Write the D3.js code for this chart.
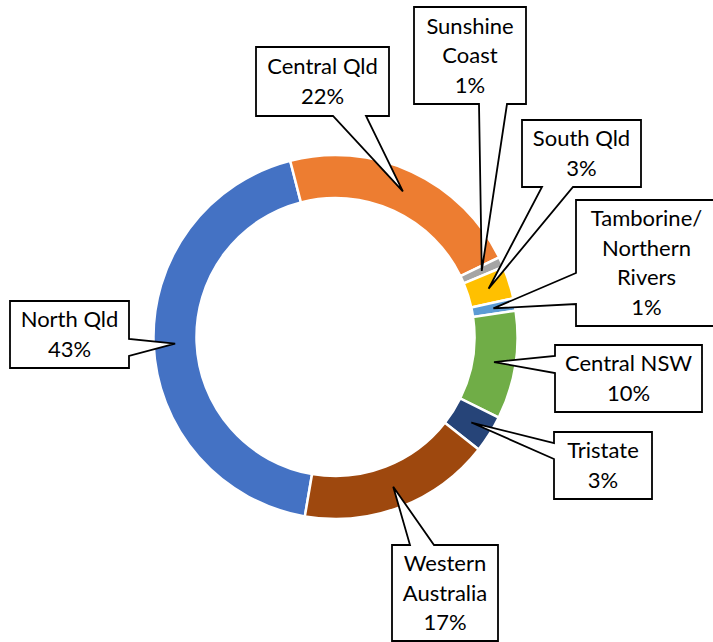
<!DOCTYPE html>
<html>
<head>
<meta charset="utf-8">
<script src="https://cdn.jsdelivr.net/npm/d3@7"></script>
<style>
  body { margin: 0; background: #fff; }
  svg { display: block; }
</style>
</head>
<body>
<svg id="chart" width="713" height="642"></svg>
<script>
// data (share of total, %)
const categories = ["North Qld", "Central Qld", "Sunshine Coast", "South Qld",
  "Tamborine/ Northern Rivers", "Central NSW", "Tristate", "Western Australia"];
const values = [43.3, 21.8, 0.9, 2.9, 1.1, 9.6, 3.3, 17.1];
const labelLines = [["North Qld"], ["Central Qld"], ["Sunshine", "Coast"], ["South Qld"],
  ["Tamborine/", "Northern", "Rivers"], ["Central NSW"], ["Tristate"], ["Western", "Australia"]];
const colors = ["#4472C4", "#ED7D31", "#A5A5A5", "#FFC000", "#5B9BD5", "#70AD47", "#264478", "#9E480E"];

// callout boxes: x, y, w, h, side the pointer leaves from, pointer base a1..a2
const boxes = [
  {x: 10,  y: 301, w: 119, h: 67,  side: "right",  a1: 339, a2: 356},
  {x: 256, y: 47,  w: 133, h: 69,  side: "bottom", a1: 333, a2: 366},
  {x: 414, y: 7,   w: 112, h: 97,  side: "bottom", a1: 479, a2: 507},
  {x: 522, y: 120, w: 119, h: 67,  side: "bottom", a1: 542, a2: 573},
  {x: 576, y: 200, w: 141, h: 126, side: "left",   a1: 273, a2: 304},
  {x: 555, y: 345, w: 147, h: 67,  side: "left",   a1: 356, a2: 373},
  {x: 554, y: 432, w: 98,  h: 67,  side: "left",   a1: 443, a2: 459},
  {x: 392, y: 545, w: 106, h: 96,  side: "top",    a1: 410, a2: 434}
];

const svg = d3.select("#chart");
const cx = 335.5, cy = 337, outerR = 182, innerR = 139;
const startAngle = 189.7 * Math.PI / 180;

const pie = d3.pie().sort(null).value(d => d)
  .startAngle(startAngle).endAngle(startAngle + 2 * Math.PI);
const arc = d3.arc().innerRadius(innerR).outerRadius(outerR);
const arcs = pie(values);
const total = d3.sum(values);

const g = svg.append("g").attr("transform", `translate(${cx},${cy})`);

g.selectAll(".slice")
  .data(arcs)
  .enter()
  .append("path")
  .attr("class", "slice")
  .attr("d", arc)
  .style("fill", (d, i) => colors[i])
  .style("stroke", "#fff")
  .style("stroke-width", 2.5);

// callout shape = box outline with a wedge pointing at the slice
const callout = (b, tx, ty) => {
  const {x, y, w, h, a1, a2} = b;
  if (b.side === "bottom")
    return `M${x},${y}H${x + w}V${y + h}H${a2}L${tx},${ty}L${a1},${y + h}H${x}Z`;
  if (b.side === "top")
    return `M${x},${y}H${a1}L${tx},${ty}L${a2},${y}H${x + w}V${y + h}H${x}Z`;
  if (b.side === "left")
    return `M${x},${y}H${x + w}V${y + h}H${x}V${a2}L${tx},${ty}L${x},${a1}Z`;
  return `M${x},${y}H${x + w}V${a1}L${tx},${ty}L${x + w},${a2}V${y + h}H${x}Z`;
};

const labels = svg.selectAll(".label")
  .data(arcs)
  .enter()
  .append("g")
  .attr("class", "label");

labels.append("path")
  .attr("d", (d, i) => {
    const c = arc.centroid(d);
    return callout(boxes[i], cx + c[0], cy + c[1]);
  })
  .style("fill", "#fff")
  .style("stroke", "#000")
  .style("stroke-width", 1.8)
  .style("stroke-linejoin", "miter");

const lineH = 29.5;
labels.each(function(d, i) {
  const b = boxes[i];
  const lines = labelLines[i].concat([Math.round(d.value / total * 100) + "%"]);
  const y0 = b.y + b.h / 2 - (lines.length - 1) * lineH / 2;
  d3.select(this).selectAll("text")
    .data(lines)
    .enter()
    .append("text")
    .attr("x", b.x + b.w / 2)
    .attr("y", (t, k) => y0 + k * lineH)
    .attr("dy", "0.35em")
    .attr("text-anchor", "middle")
    .style("font-family", "Lato, 'Open Sans', sans-serif")
    .style("font-size", "22px")
    .style("fill", "#000")
    .text(t => t);
});
</script>
</body>
</html>
